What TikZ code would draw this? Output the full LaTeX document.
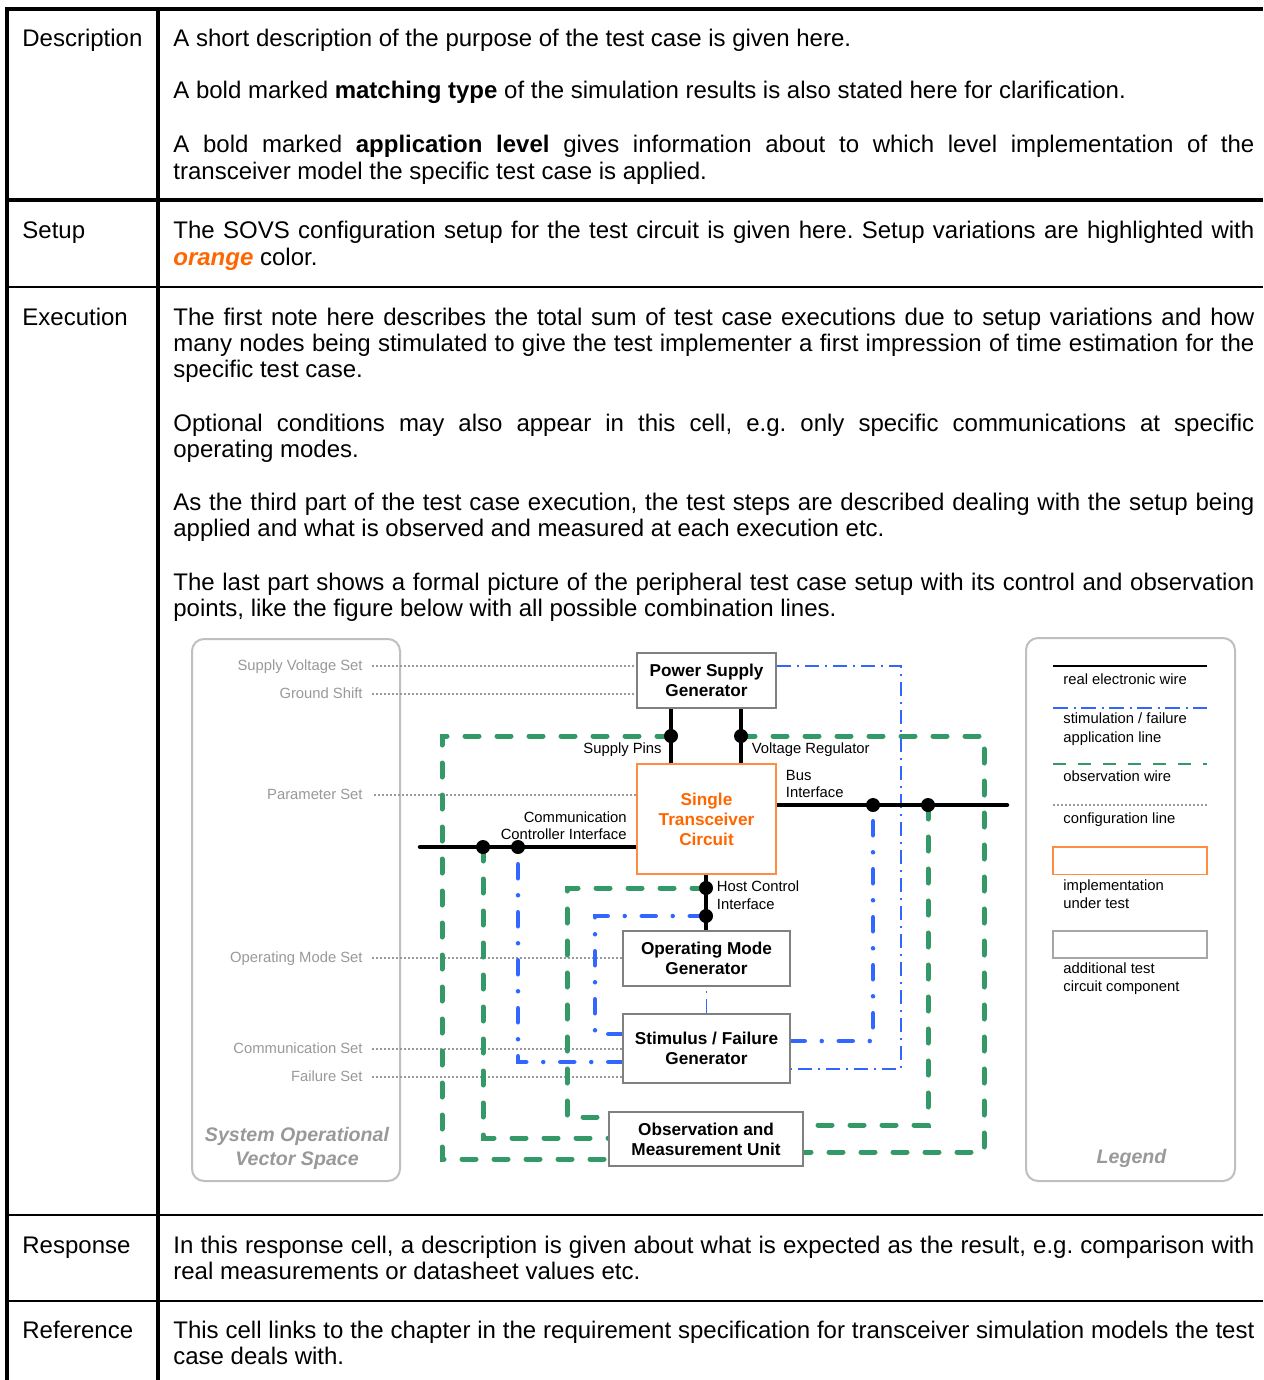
\documentclass[tikz,border=0pt]{standalone}
\usepackage{fontspec}
\setmainfont{Liberation Sans}
\usetikzlibrary{calc,backgrounds}
\frenchspacing

\definecolor{obsgreen}{HTML}{339966}
\definecolor{stimblue}{HTML}{3366FF}
\definecolor{iutorange}{HTML}{FF6600}
\definecolor{iutframe}{HTML}{FF8C40}
\definecolor{cfggray}{HTML}{999999}
\definecolor{boxgray}{HTML}{808080}
\definecolor{panelgray}{HTML}{BFBFBF}

% one justified line of the right-hand column
\newcommand\jline[1]{\makebox[540.5pt][s]{#1}}

\tikzset{
  body/.style={anchor=base west, inner sep=0pt, font=\fontsize{12}{13}\selectfont},
  small/.style={inner sep=0pt, font=\fontsize{7.4}{8.75}\selectfont},
  setlabel/.style={small, anchor=base east, text=cfggray},
  wirelabel/.style={small, anchor=base west},
  comp/.style={draw=boxgray, fill=white, line width=0.75pt, inner sep=0pt,
    align=center, font=\fontsize{8.6}{10}\selectfont\bfseries},
  panel/.style={draw=panelgray, fill=white, line width=1pt, rounded corners=6pt},
  wire/.style={line width=2.25pt, line cap=round},
  obs/.style={obsgreen, line width=2.5pt, line cap=round, dash pattern=on 7pt off 9pt},
  stim/.style={stimblue, line width=2.25pt, line cap=round,
    dash pattern=on 7pt off 8.5pt on 0pt off 8.5pt},
  stimthin/.style={stimblue, line width=0.75pt, dash pattern=on 7pt off 3pt on 1pt off 3pt},
  cfg/.style={cfggray, line width=0.6pt, dash pattern=on 1pt off 1pt},
  paneltitle/.style={inner sep=0pt, anchor=base, text=cfggray,
    font=\fontsize{9.8}{11.5}\selectfont\bfseries\itshape},
  junction/.style={circle, fill=black, inner sep=0pt, minimum size=7pt},
}

\begin{document}
\begin{tikzpicture}[x=0.5pt,y=-0.5pt]
\useasboundingbox (0,0) rectangle (1263,1380);

% ---------------- table text ----------------
\node[body] (hDesc) at (22,47) {Description};
\node[body] (hSetup) at (22,239) {Setup};
\node[body] (hExec) at (22,325) {Execution};
\node[body] (hResp) at (22,1253) {Response};
\node[body] (hRef) at (22,1338) {Reference};

\node[body] (d1) at (173,47) {A short description of the purpose of the test case is given here.};
\node[body] (d2) at (173,99) {A bold marked \textbf{matching type} of the simulation results is also stated here for clarification.};
\node[body] (d3) at (173,153) {\jline{A bold marked \textbf{application level} gives information about to which level implementation of the}};
\node[body] (d4) at (173,180) {transceiver model the specific test case is applied.};

\node[body] (s1) at (173,239) {\jline{The SOVS configuration setup for the test circuit is given here. Setup variations are highlighted with}};
\node[body] (s2) at (173,265) {\textcolor{iutorange}{\textbf{\textit{orange}}} color.};

\node[body] (e1) at (173,325) {\jline{The first note here describes the total sum of test case executions due to setup variations and how}};
\node[body] (e2) at (173,351) {\jline{many nodes being stimulated to give the test implementer a first impression of time estimation for the}};
\node[body] (e3) at (173,377) {specific test case.};
\node[body] (e4) at (173,431) {\jline{Optional conditions may also appear in this cell, e.g. only specific communications at specific}};
\node[body] (e5) at (173,457) {operating modes.};
\node[body] (e6) at (173,510) {\jline{As the third part of the test case execution, the test steps are described dealing with the setup being}};
\node[body] (e7) at (173,536) {applied and what is observed and measured at each execution etc.};
\node[body] (e8) at (173,590) {\jline{The last part shows a formal picture of the peripheral test case setup with its control and observation}};
\node[body] (e9) at (173,616) {points, like the figure below with all possible combination lines.};

\node[body] (r1) at (173,1253) {\jline{In this response cell, a description is given about what is expected as the result, e.g. comparison with}};
\node[body] (r2) at (173,1279) {real measurements or datasheet values etc.};

\node[body] (f1) at (173,1338) {\jline{This cell links to the chapter in the requirement specification for transceiver simulation models the test}};
\node[body] (f2) at (173,1364) {case deals with.};

% ---------------- components ----------------
\node[comp, minimum width=69.5pt, minimum height=27.5pt] (psg) at (706.5,680.5) {Power Supply\\Generator};
\node[comp, draw=iutframe, text=iutorange, minimum width=69.5pt, minimum height=55pt] (stc) at (706.5,819) {Single\\Transceiver\\Circuit};
\node[comp, minimum width=83.5pt, minimum height=27.5pt] (omg) at (706.5,958.5) {Operating Mode\\Generator};
\node[comp, minimum width=83.5pt, minimum height=34.5pt] (sfg) at (706.5,1048.5) {Stimulus / Failure\\Generator};
\node[comp, minimum width=97pt, minimum height=27pt] (omu) at (706,1139) {Observation and\\Measurement Unit};

% junction points
\coordinate (jsp) at (671,736);
\coordinate (jvr) at (741,736);
\coordinate (jb1) at (873,805);
\coordinate (jb2) at (928,805);
\coordinate (jc1) at (483,847);
\coordinate (jc2) at (518,847);
\coordinate (jh1) at (706,888);
\coordinate (jh2) at (706,916);
\coordinate (busend) at (1007,805);
\coordinate (ccend) at (420,847);

% wire labels
\node[wirelabel, anchor=base east] (lsp) at (662,753.5) {Supply Pins};
\node[wirelabel] (lvr) at (751.5,753.5) {Voltage Regulator};
\node[wirelabel] (lbus1) at (785.5,780) {Bus};
\node[wirelabel] (lbus2) at (785.5,797.5) {Interface};
\node[wirelabel, anchor=base east] (lcc1) at (627,822) {Communication};
\node[wirelabel, anchor=base east] (lcc2) at (627,839.5) {Controller Interface};
\node[wirelabel] (lhc1) at (716.5,891.5) {Host Control};
\node[wirelabel] (lhc2) at (716.5,909) {Interface};

% system operational vector space labels
\node[setlabel] (vsv) at (363,670.5) {Supply Voltage Set};
\node[setlabel] (vgs) at (363,698) {Ground Shift};
\node[setlabel] (vps) at (363,799.3) {Parameter Set};
\node[setlabel] (vom) at (363,962) {Operating Mode Set};
\node[setlabel] (vcs) at (363,1053.3) {Communication Set};
\node[setlabel] (vfs) at (363,1081) {Failure Set};
\node[paneltitle] (sovs1) at (297,1141.5) {System Operational};
\node[paneltitle] (sovs2) at (297,1165) {Vector Space};

% legend texts
\begin{scope}[every node/.style={small, anchor=base west}]
\node (lg1) at (1063,684.5) {real electronic wire};
\node (lg2) at (1063,723.5) {stimulation / failure};
\node (lg3) at (1063,742) {application line};
\node (lg4) at (1063,781.5) {observation wire};
\node (lg5) at (1063,823) {configuration line};
\node (lg6) at (1063,890) {implementation};
\node (lg7) at (1063,908) {under test};
\node (lg8) at (1063,973.5) {additional test};
\node (lg9) at (1063,991.5) {circuit component};
\end{scope}
\node[paneltitle] (lgt) at (1131.5,1163) {Legend};

% junction dots
\foreach \j in {jsp,jvr,jb1,jb2,jc1,jc2,jh1,jh2}
  \node[junction] at (\j) {};

\begin{pgfonlayer}{background}
% table rules
\draw[line width=2pt] (5,9) -- (1263,9);
\draw[line width=2pt] (7,7) -- (7,1380);
\draw[line width=2pt] (157.5,7) -- (157.5,1380);
\draw[line width=2pt] (9,200.5) -- (1263,200.5);
\draw[line width=1pt] (9,286.5) -- (1263,286.5);
\draw[line width=1pt] (9,1215) -- (1263,1215);
\draw[line width=1pt] (9,1300.5) -- (1263,1300.5);

% panels
\draw[panel] (192,639) rectangle (400,1181);
\draw[panel] (1026,638) rectangle (1235,1181);

% configuration lines
\coordinate (csv) at (372,666);
\coordinate (cgs) at (372,694);
\coordinate (cps) at (374,795);
\coordinate (com) at (372,958);
\coordinate (ccs) at (372,1049);
\coordinate (cfs) at (372,1077);
\draw[cfg] (csv) -- (psg.west |- csv);
\draw[cfg] (cgs) -- (psg.west |- cgs);
\draw[cfg] (cps) -- (stc.west |- cps);
\draw[cfg] (com) -- (omg.west |- com);
\draw[cfg] (ccs) -- (sfg.west |- ccs);
\draw[cfg] (cfs) -- (sfg.west |- cfs);

% observation wires
\draw[obs] (jsp) -- (442,736) -- (442,1159) -- (omu.west |- 0,1159);
\draw[obs] (jvr) -- (984,736) -- (984,1152) -- (omu.east |- 0,1152);
\draw[obs] (jc1) -- (483,1138) -- (omu.west |- 0,1138);
\draw[obs] (jb2) -- (928,1125) -- (omu.east |- 0,1125);
\draw[obs] (jh1) -- (567,888) -- (567,1117) -- (omu.west |- 0,1117);

% stimulation / failure lines
\draw[stimthin] (psg.east |- 0,666) -- (901,666) -- (901,1069) -- (sfg.east |- 0,1069);
\draw[stimthin] (sfg.north) -- (omg.south);
\draw[stim] (sfg.west |- 0,1062) -- (518,1062) -- (jc2);
\draw[stim] (sfg.west |- 0,1034) -- (595,1034) -- (595,916) -- (jh2);
\draw[stim] (sfg.east |- 0,1041) -- (873,1041) -- (jb1);

% real electronic wires
\draw[wire] (psg.south -| jsp) -- (stc.north -| jsp);
\draw[wire] (psg.south -| jvr) -- (stc.north -| jvr);
\draw[wire] (stc.east |- busend) -- (busend);
\draw[wire] (ccend) -- (stc.west |- ccend);
\draw[wire] (stc.south -| jh1) -- (omg.north -| jh1);

% legend samples
\draw[line width=1pt] (1053,666) -- (1207,666);
\draw[stimblue, line width=1pt, dash pattern=on 7.5pt off 2.75pt on 1pt off 2.75pt] (1053,707.5) -- (1207,707.5);
\draw[obsgreen, line width=1pt, dash pattern=on 6.5pt off 6pt] (1053,763.5) -- (1207,763.5);
\draw[cfg] (1053,805) -- (1207,805);
\draw[iutframe, line width=0.75pt] (1053,847) rectangle (1207,874.5);
\draw[boxgray!70, line width=0.75pt] (1053,931) rectangle (1207,958);
\end{pgfonlayer}
\end{tikzpicture}
\end{document}
